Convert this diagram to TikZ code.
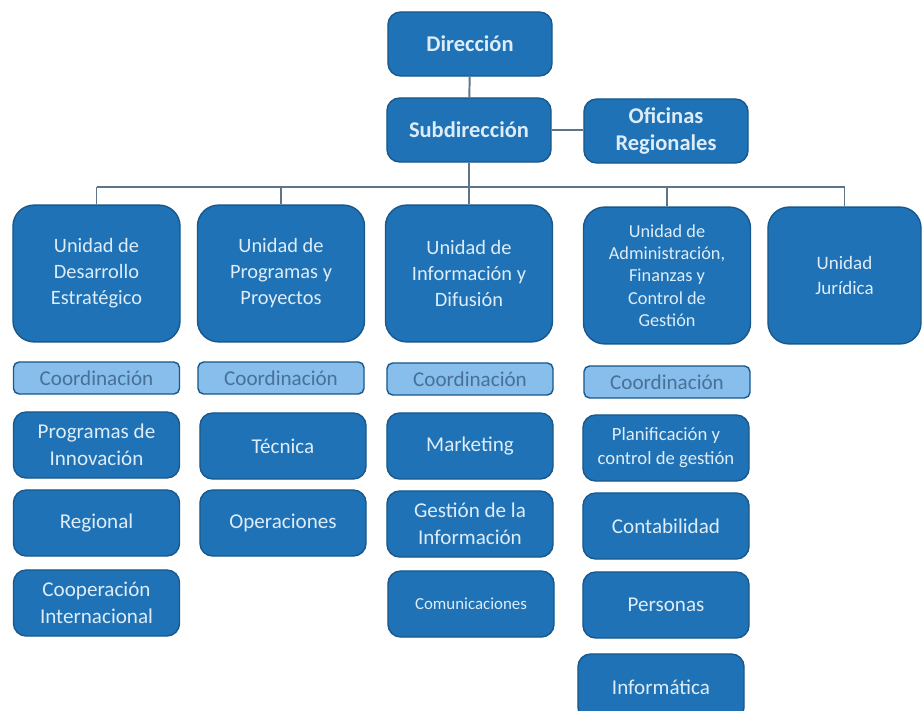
\documentclass[tikz,border=0pt]{standalone}
\usepackage{fontspec}
\setmainfont{Carlito}
\definecolor{azul}{RGB}{31,114,181}
\definecolor{bordeazul}{RGB}{24,88,140}
\definecolor{celeste}{RGB}{135,190,236}
\definecolor{textoclaro}{RGB}{222,236,248}
\definecolor{textocoord}{RGB}{72,112,152}
\definecolor{gris}{RGB}{96,116,136}
\tikzset{
  caja/.style={draw=bordeazul, line width=1pt, fill=azul, text=textoclaro, align=center, inner sep=1pt},
  jefe/.style={caja, rounded corners=9pt, minimum width=4.1cm, minimum height=1.6cm, font=\fontsize{16}{19}\selectfont\bfseries},
  unidad/.style={caja, rounded corners=15pt, minimum width=4.175cm, minimum height=3.42cm, font=\fontsize{14.5}{18.5}\selectfont},
  coord/.style={caja, fill=celeste, text=textocoord, rounded corners=4pt, minimum width=4.15cm, minimum height=0.8cm, font=\fontsize{15}{17}\selectfont},
  area/.style={caja, rounded corners=9pt, minimum width=4.15cm, minimum height=1.65cm, font=\fontsize{15}{19}\selectfont},
  linea/.style={draw=gris, line width=1.4pt}
}
\begin{document}
\begin{tikzpicture}[x=0.025cm,y=-0.025cm]
	\clip (0,0) rectangle (923,711);
	\fill[white] (0,0) rectangle (923,711);
	\coordinate (barra) at (0,187);
	\node[jefe] (dir) at (470,44) {Dirección};
	\node[jefe] (sub) at (469,130) {Subdirección};
	\node[jefe] (ofi) at (666,131) {Oficinas\\Regionales};
	\node[unidad] (u1) at (96.5,273.5) {Unidad de\\Desarrollo\\Estratégico};
	\node[unidad] (u2) at (281,273.5) {Unidad de\\Programas y\\Proyectos};
	\node[unidad] (u3) at (469,273.5) {Unidad de\\Información y\\Difusión};
	\node[unidad, font=\fontsize{13}{15.8}\selectfont] (u4) at (667,275.5) {Unidad de\\Administración,\\Finanzas y\\Control de\\Gestión};
	\node[unidad, minimum width=3.825cm, font=\fontsize{13.5}{18}\selectfont] (u5) at (844.5,275.5) {Unidad\\Jurídica};
	\node[coord] (c1) at (96.5,378) {Coordinación};
	\node[coord] (c2) at (281,378) {Coordinación};
	\node[coord] (c3) at (470,379) {Coordinación};
	\node[coord] (c4) at (667,382) {Coordinación};
	\node[area] (a1) at (96.5,445) {Programas de\\Innovación};
	\node[area] (a2) at (96.5,523) {Regional};
	\node[area] (a3) at (96.5,603) {Cooperación\\Internacional};
	\node[area] (b1) at (283,446) {Técnica};
	\node[area] (b2) at (283,523) {Operaciones};
	\node[area] (d1) at (470,446) {Marketing};
	\node[area] (d2) at (470,524) {Gestión de la\\Información};
	\node[area, font=\fontsize{12}{14}\selectfont] (d3) at (471,604) {Comunicaciones};
	\node[area, font=\fontsize{13.3}{17}\selectfont] (e1) at (666,448) {Planificación y\\control de gestión};
	\node[area] (e2) at (666,526) {Contabilidad};
	\node[area] (e3) at (666,605) {Personas};
	\node[area] (e4) at (661,687) {Informática};
	\draw[linea] (dir) -- (sub);
	\draw[linea] (sub.east) -- (ofi.west |- sub.east);
	\draw[linea] (sub) -- (u3);
	\draw[linea] (u1.north |- barra) -- (u5.north |- barra);
	\foreach \u in {u1,u2,u4,u5}
		\draw[linea] (\u.north) -- (\u.north |- barra);
\end{tikzpicture}
\end{document}
